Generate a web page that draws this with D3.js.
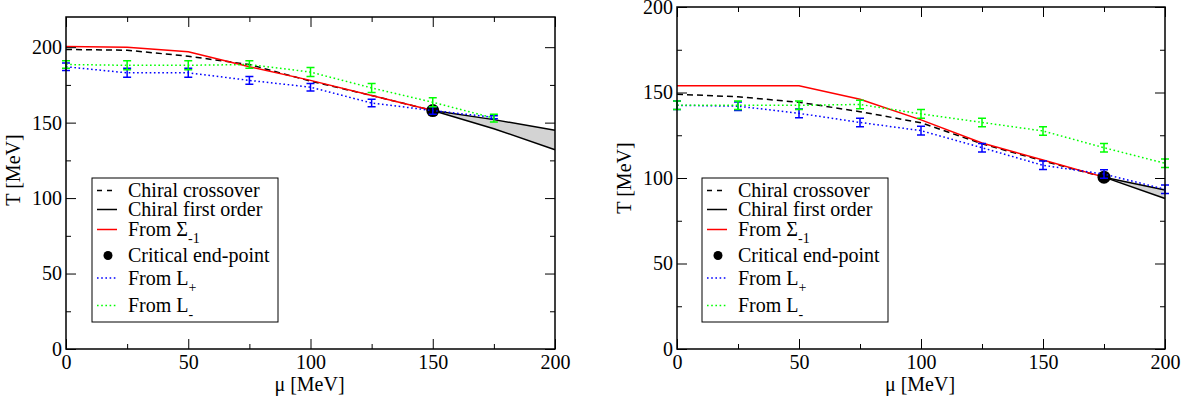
<!DOCTYPE html>
<html lang="en">
<head>
<meta charset="UTF-8">
<title>Chiral phase diagram</title>
<script src="https://d3js.org/d3.v7.min.js"></script>
<style>
  body { margin: 0; background: #fff; }
  svg text { font-family: "Liberation Serif", "DejaVu Serif", serif; fill: #000; }
</style>
</head>
<body>
<svg id="chart" width="1189" height="398"></svg>
<script>
// ---- data, left panel ----
const muL = [0, 25, 50, 75, 100, 125, 150];
const sigmaL = [200.5, 200, 197, 187, 178, 168, 158];
const crossL = [198.5, 198, 194, 188.5, 177.5, 168, 158];
const muFoL = [150, 175, 200];
const foUpL = [158, 152, 145];
const foLoL = [158, 146, 132];
const cepL = [150, 158];
const muLpL = [0, 25, 50, 75, 100, 125, 150, 175];
const lplusL = [187, 183, 183, 178, 173.5, 163, 158, 153.5];
const lplusErrL = [2.5, 3, 3, 2.5, 2.5, 2.5, 2.5, 1];
const lminusL = [188.5, 188, 188, 188.5, 183.5, 173, 163.5, 153];
const lminusErrL = [2.5, 3, 3, 2.5, 3, 3, 3, 2.5];

// ---- data, right panel ----
const muR = [0, 25, 50, 75, 100, 125, 150, 175];
const sigmaR = [154, 154, 154, 146, 134, 120.5, 110.5, 100.5];
const crossR = [149, 147.5, 144.3, 138.8, 132.3, 120, 110, 100.5];
const muFoR = [175, 200];
const foUpR = [100.5, 93];
const foLoR = [100.5, 88];
const cepR = [175, 100.5];
const muLpR = [0, 25, 50, 75, 100, 125, 150, 175, 200];
const lplusR = [142.5, 142, 137.8, 132.5, 127.7, 117.7, 107.4, 102.3, 93.4];
const lplusErrR = [2.5, 2.5, 2.5, 2.5, 2.5, 2.5, 2.5, 2.5, 2.5];
const lminusR = [142.5, 142.5, 142.5, 143, 137.5, 132.5, 127.5, 117.7, 108.6];
const lminusErrR = [2.5, 2.5, 2.5, 2.5, 2.5, 2.5, 2.5, 2.5, 2.5];

const xTicks = [0, 50, 100, 150, 200];
const xMinor = [25, 75, 125, 175];
const yTicks = [0, 50, 100, 150, 200];

const legendItems = ["Chiral crossover", "Chiral first order", "From \u03A3", "Critical end-point", "From L", "From L"];
const legendSubs = ["", "", "-1", "", "+", "-"];

const svg = d3.select("#chart");

function drawPanel(p) {
  const x = d3.scaleLinear().domain([0, 200]).range([p.left, p.right]);
  const y = d3.scaleLinear().domain([0, p.ymax]).range([349, p.top]);
  const g = svg.append("g");

  const pts = (xs, ys) => xs.map((m, i) => [x(m), y(ys[i])]);
  const line = d3.line();

  // first-order band
  const band = d3.area()
    .x((d, i) => x(p.muFo[i]))
    .y0(d => y(d[0]))
    .y1(d => y(d[1]));
  g.append("path")
    .attr("d", band(p.foLo.map((v, i) => [v, p.foUp[i]])))
    .attr("fill", "#d3d3d3");

  g.append("path").attr("d", line(pts(p.mu, p.cross)))
    .attr("fill", "none").attr("stroke", "#000").attr("stroke-width", 1.5)
    .attr("stroke-dasharray", "6,4");
  g.append("path").attr("d", line(pts(p.mu, p.sigma)))
    .attr("fill", "none").attr("stroke", "#ff0000").attr("stroke-width", 1.5);
  [p.foUp, p.foLo].forEach(arr => {
    g.append("path").attr("d", line(pts(p.muFo, arr)))
      .attr("fill", "none").attr("stroke", "#000").attr("stroke-width", 1.5);
  });

  g.append("circle").attr("cx", x(p.cep[0])).attr("cy", y(p.cep[1]))
    .attr("r", 6.5).attr("fill", "#000");

  function dotted(xs, ys, errs, color) {
    g.append("path").attr("d", line(pts(xs, ys)))
      .attr("fill", "none").attr("stroke", color).attr("stroke-width", 1.5)
      .attr("stroke-dasharray", "1.6,2.6");
    xs.forEach((m, i) => {
      const cx = x(m), y0 = y(ys[i] - errs[i]), y1 = y(ys[i] + errs[i]);
      const path = `M${cx},${y0}V${y1}M${cx - 4},${y0}H${cx + 4}M${cx - 4},${y1}H${cx + 4}`;
      g.append("path").attr("d", path).attr("stroke", color).attr("stroke-width", 1.5).attr("fill", "none");
    });
  }
  dotted(p.muLp, p.lplus, p.lplusErr, "#0000ff");
  dotted(p.muLp, p.lminus, p.lminusErr, "#00ff00");

  // axes with inward ticks
  const H = 349;
  const axisG = svg.append("g");
  const styleAxis = sel => { sel.select(".domain").remove(); sel.selectAll("line").attr("stroke", "#000").attr("stroke-width", 1); };
  axisG.append("g").attr("transform", `translate(0,${H})`)
    .call(d3.axisBottom(x).tickValues(xTicks).tickSize(-10).tickPadding(6).tickFormat(d3.format("d")))
    .call(styleAxis)
    .selectAll("text").attr("font-size", 20).attr("fill", "#000");
  axisG.append("g").attr("transform", `translate(0,${H})`)
    .call(d3.axisBottom(x).tickValues(xMinor).tickSize(-5).tickFormat("")).call(styleAxis);
  axisG.append("g").attr("transform", `translate(0,${p.top})`)
    .call(d3.axisTop(x).tickValues(xTicks).tickSize(-10).tickFormat("")).call(styleAxis);
  axisG.append("g").attr("transform", `translate(0,${p.top})`)
    .call(d3.axisTop(x).tickValues(xMinor).tickSize(-5).tickFormat("")).call(styleAxis);

  const yMinor = d3.range(25, p.ymax, 50);
  axisG.append("g").attr("transform", `translate(${p.left},0)`)
    .call(d3.axisLeft(y).tickValues(yTicks).tickSize(-10).tickPadding(4).tickFormat(d3.format("d")))
    .call(styleAxis)
    .selectAll("text").attr("font-size", 20).attr("fill", "#000");
  axisG.append("g").attr("transform", `translate(${p.left},0)`)
    .call(d3.axisLeft(y).tickValues(yMinor).tickSize(-5).tickFormat("")).call(styleAxis);
  axisG.append("g").attr("transform", `translate(${p.right},0)`)
    .call(d3.axisRight(y).tickValues(yTicks).tickSize(-10).tickFormat("")).call(styleAxis);
  axisG.append("g").attr("transform", `translate(${p.right},0)`)
    .call(d3.axisRight(y).tickValues(yMinor).tickSize(-5).tickFormat("")).call(styleAxis);

  axisG.append("rect").attr("x", p.left).attr("y", p.top)
    .attr("width", p.right - p.left).attr("height", H - p.top)
    .attr("fill", "none").attr("stroke", "#000").attr("stroke-width", 1.5);

  // axis titles
  svg.append("text").attr("x", (p.left + p.right) / 2 - 1).attr("y", 391)
    .attr("text-anchor", "middle").attr("font-size", 20).text("\u03BC [MeV]");
  svg.append("text").attr("transform", `translate(${p.left - 46},${p.ylabY}) rotate(-90)`)
    .attr("text-anchor", "middle").attr("font-size", 20).text("T [MeV]");

  // legend
  const lx = p.legX, ly = 178;
  const lg = svg.append("g");
  lg.append("rect").attr("x", lx).attr("y", ly).attr("width", 186).attr("height", 144)
    .attr("fill", "#fff").attr("stroke", "#000").attr("stroke-width", 1);
  const base = [19, 38, 58, 84, 106.5, 134];
  const sx0 = lx + 5, sx1 = lx + 25;
  const sample = [
    { stroke: "#000", dash: "5,5" },
    { stroke: "#000", dash: null },
    { stroke: "#ff0000", dash: null },
    null,
    { stroke: "#0000ff", dash: "1.6,2.6" },
    { stroke: "#00ff00", dash: "1.6,2.6" }
  ];
  legendItems.forEach((label, i) => {
    const by = ly + base[i];
    const s = sample[i];
    if (s) {
      lg.append("line").attr("x1", sx0).attr("x2", sx1).attr("y1", by - 6.5).attr("y2", by - 6.5)
        .attr("stroke", s.stroke).attr("stroke-width", 1.5)
        .attr("stroke-dasharray", s.dash);
    } else {
      lg.append("circle").attr("cx", lx + 16).attr("cy", by - 6.5).attr("r", 4.5).attr("fill", "#000");
    }
    const t = lg.append("text").attr("x", lx + 36).attr("y", by).attr("font-size", 20);
    t.append("tspan").text(label);
    if (legendSubs[i]) {
      t.append("tspan").attr("dy", 7).attr("font-size", 14).text(legendSubs[i]);
    }
  });
}

drawPanel({
  left: 66, right: 555, top: 17, ymax: 220, ylabY: 170, legX: 92,
  mu: muL, sigma: sigmaL, cross: crossL, muFo: muFoL, foUp: foUpL, foLo: foLoL, cep: cepL,
  muLp: muLpL, lplus: lplusL, lplusErr: lplusErrL, lminus: lminusL, lminusErr: lminusErrL
});
drawPanel({
  left: 677, right: 1165, top: 7, ymax: 200, ylabY: 178, legX: 702,
  mu: muR, sigma: sigmaR, cross: crossR, muFo: muFoR, foUp: foUpR, foLo: foLoR, cep: cepR,
  muLp: muLpR, lplus: lplusR, lplusErr: lplusErrR, lminus: lminusR, lminusErr: lminusErrR
});
</script>
</body>
</html>
